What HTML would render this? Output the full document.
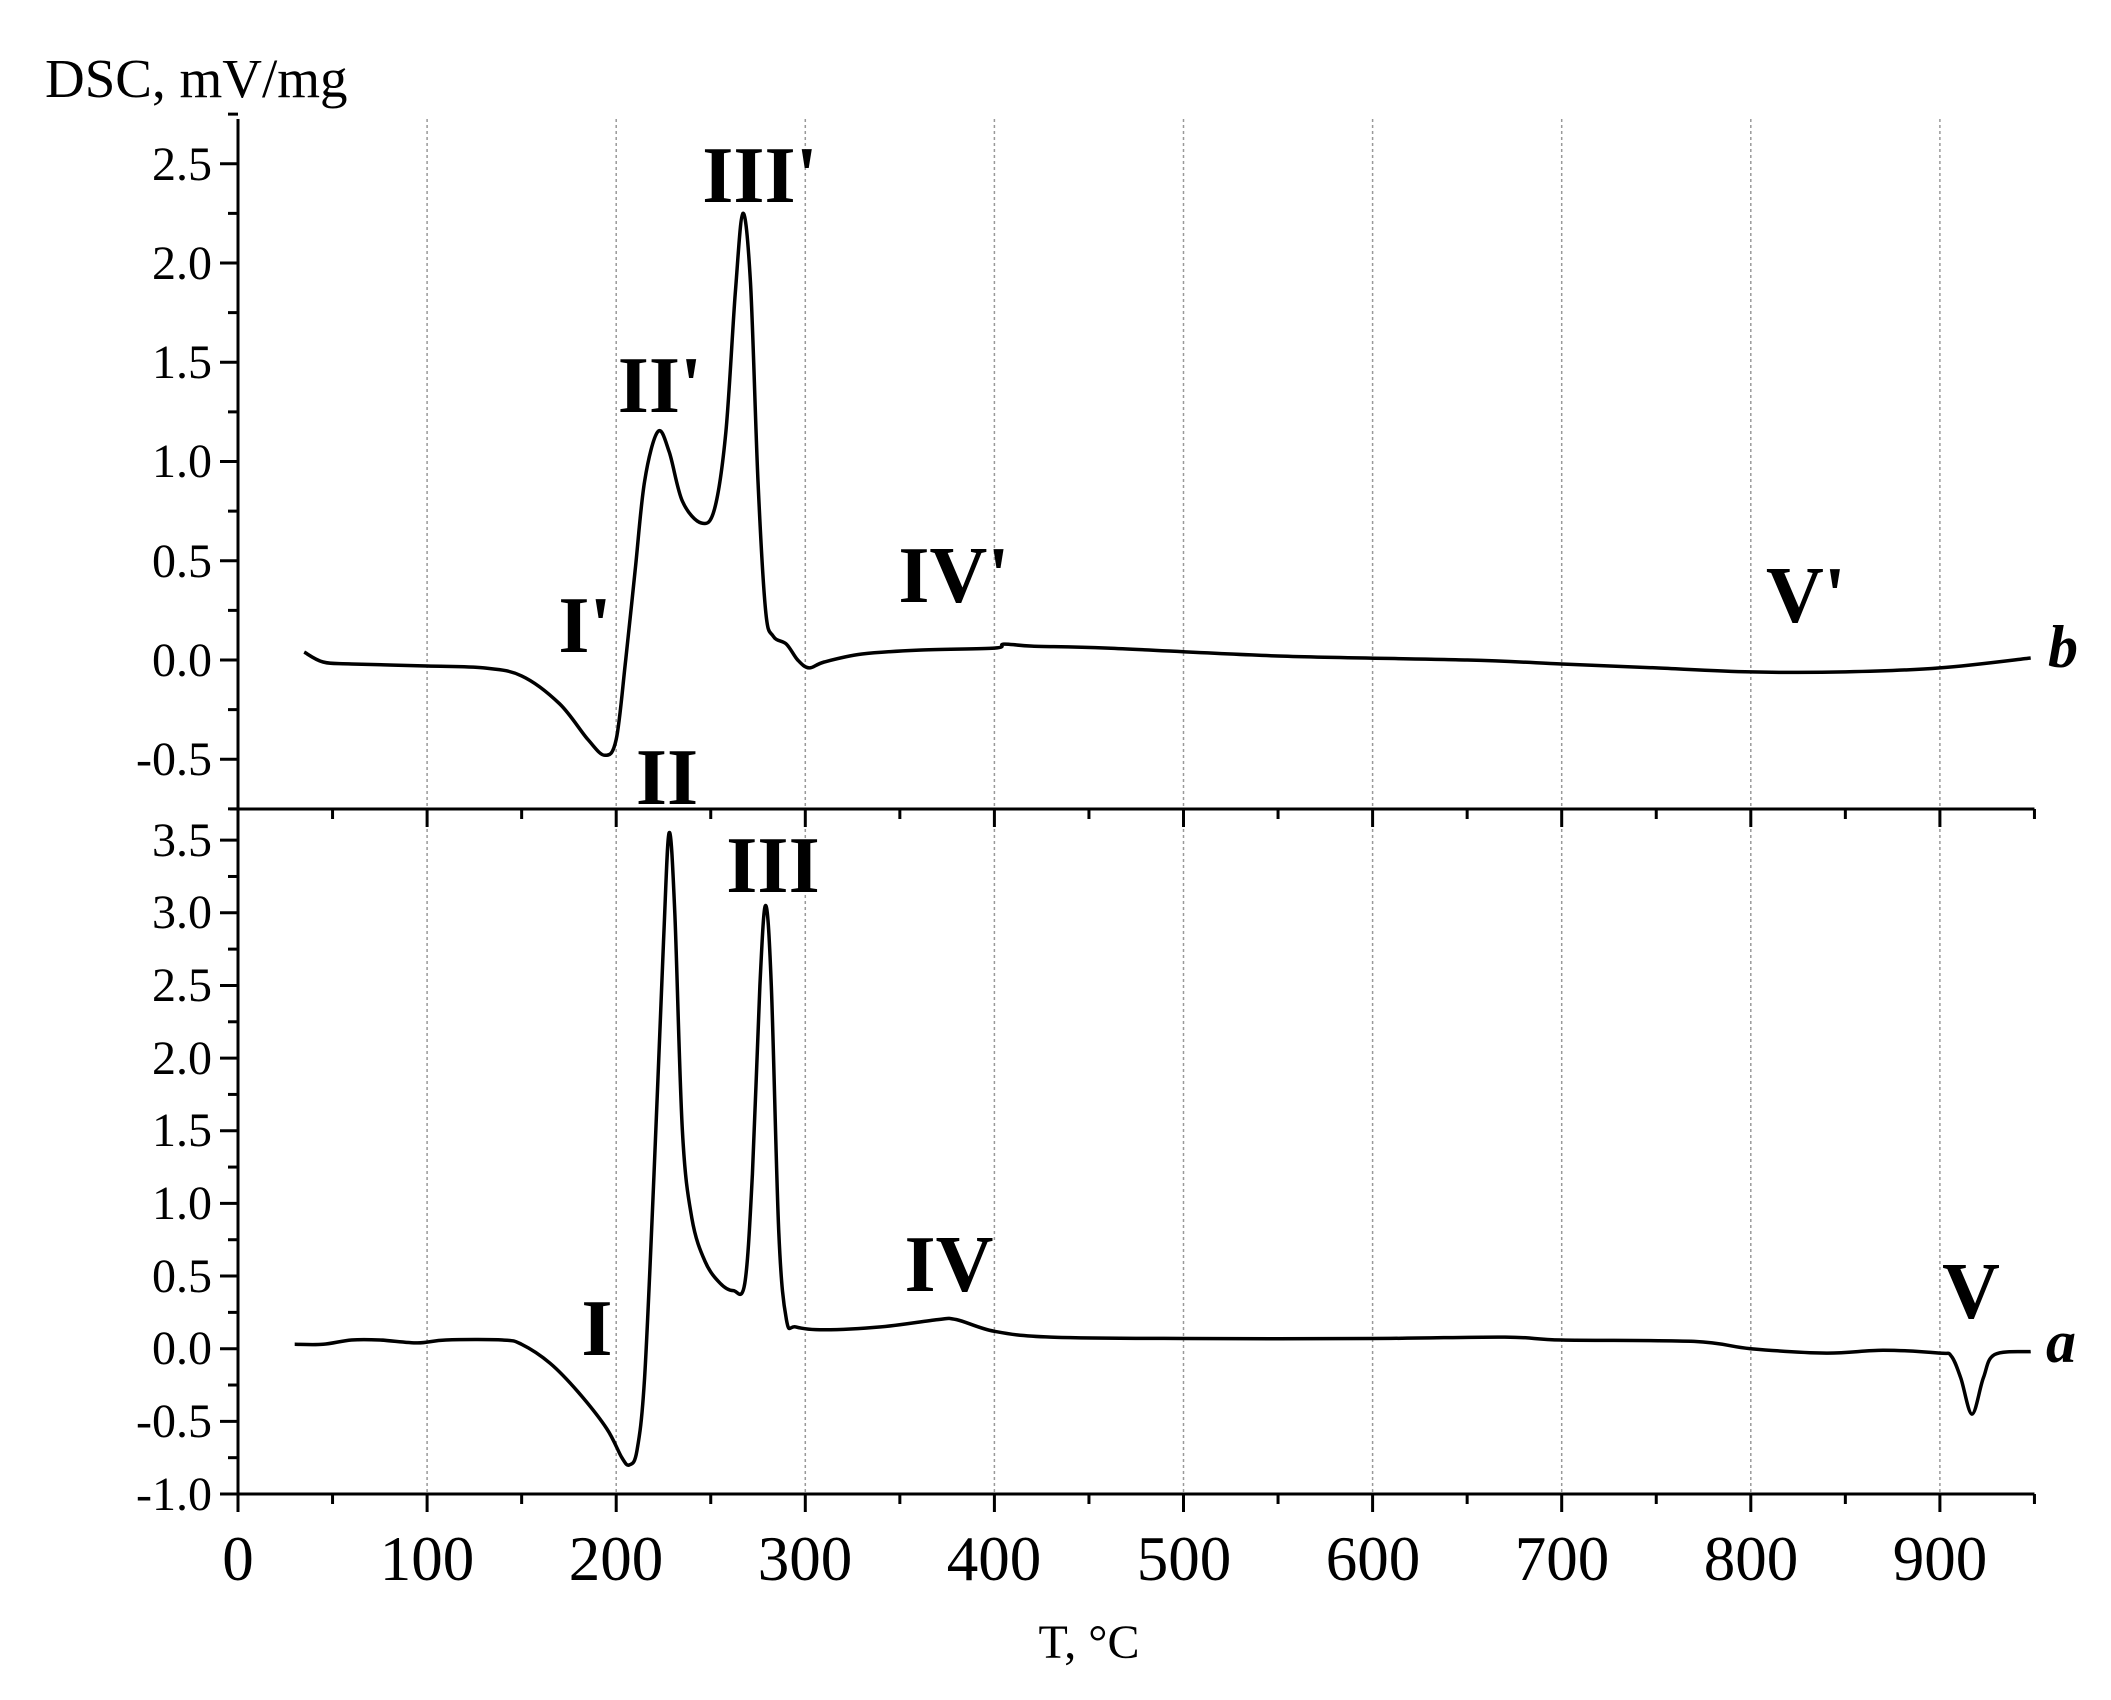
<!DOCTYPE html>
<html><head><meta charset="utf-8"><style>
html,body{margin:0;padding:0;background:#fff;}
svg{display:block;}
text{font-family:"Liberation Serif",serif;fill:#000;}
.yl{font-size:48px;text-anchor:end;}
.xl{font-size:63px;text-anchor:middle;}
.lb{font-size:80px;font-weight:bold;text-anchor:middle;}
</style></head><body>
<svg id="s" width="2111" height="1700" viewBox="0 0 2111 1700" xmlns="http://www.w3.org/2000/svg">
<g id="grid" stroke="#999" stroke-width="1.5" stroke-dasharray="3,3"></g>
<g id="axes" stroke="#000" stroke-width="3" fill="none"></g>
<path id="pb" fill="none" stroke="#000" stroke-width="3.5"/>
<path id="pa" fill="none" stroke="#000" stroke-width="3.5"/>
<text x="45" y="97" style="font-size:55px">DSC, mV/mg</text>
<text class="yl" x="212" y="180">2.5</text>
<text class="yl" x="212" y="279">2.0</text>
<text class="yl" x="212" y="378">1.5</text>
<text class="yl" x="212" y="477">1.0</text>
<text class="yl" x="212" y="577">0.5</text>
<text class="yl" x="212" y="676">0.0</text>
<text class="yl" x="212" y="775">-0.5</text>
<text class="yl" x="212" y="856">3.5</text>
<text class="yl" x="212" y="928">3.0</text>
<text class="yl" x="212" y="1001">2.5</text>
<text class="yl" x="212" y="1074">2.0</text>
<text class="yl" x="212" y="1146">1.5</text>
<text class="yl" x="212" y="1219">1.0</text>
<text class="yl" x="212" y="1292">0.5</text>
<text class="yl" x="212" y="1364">0.0</text>
<text class="yl" x="212" y="1437">-0.5</text>
<text class="yl" x="212" y="1510">-1.0</text>
<text class="xl" x="238" y="1580">0</text>
<text class="xl" x="427" y="1580">100</text>
<text class="xl" x="616" y="1580">200</text>
<text class="xl" x="805" y="1580">300</text>
<text class="xl" x="994" y="1580">400</text>
<text class="xl" x="1184" y="1580">500</text>
<text class="xl" x="1373" y="1580">600</text>
<text class="xl" x="1562" y="1580">700</text>
<text class="xl" x="1751" y="1580">800</text>
<text class="xl" x="1940" y="1580">900</text>
<text x="1089" y="1658" style="font-size:48px;text-anchor:middle">T, °C</text>
<text class="lb" x="585" y="652">I'</text>
<text class="lb" x="660" y="412">II'</text>
<text class="lb" x="760" y="202">III'</text>
<text class="lb" x="954" y="602">IV'</text>
<text class="lb" x="1806" y="622">V'</text>
<text x="2063" y="667" style="font-size:60px;font-weight:bold;font-style:italic;text-anchor:middle">b</text>
<text class="lb" x="667" y="804">II</text>
<text class="lb" x="773" y="892">III</text>
<text class="lb" x="597" y="1355">I</text>
<text class="lb" x="949" y="1291">IV</text>
<text class="lb" x="1971" y="1318">V</text>
<text x="2061" y="1362" style="font-size:60px;font-weight:bold;font-style:italic;text-anchor:middle">a</text>
</svg>
<script>
var X0=238,KX=1.891;
function X(t){return X0+KX*t;}
function YB(v){return 660-198.5*v;}
function YA(v){return 1494-145.3*(v+1);}
var ns="http://www.w3.org/2000/svg";
function el(p,tag,a){var e=document.createElementNS(ns,tag);for(var k in a)e.setAttribute(k,a[k]);p.appendChild(e);}
var g=document.getElementById('grid'),ax=document.getElementById('axes');
for(var t=100;t<=900;t+=100){el(g,'line',{x1:X(t),x2:X(t),y1:119,y2:807});el(g,'line',{x1:X(t),x2:X(t),y1:811,y2:1492});}
var L=X0,R=X(950);
el(ax,'line',{x1:L,y1:119,x2:L,y2:1494});
el(ax,'line',{x1:L-8,y1:809,x2:R,y2:809});
el(ax,'line',{x1:L-8,y1:1494,x2:R,y2:1494});
for(var v=-0.75;v<=2.76;v+=0.25){var y=YB(v);var maj=Math.abs(v*2-Math.round(v*2))<1e-6;el(ax,'line',{x1:L-(maj?18:10),x2:L,y1:y,y2:y});}
for(var v=-1;v<=3.71;v+=0.25){var y=YA(v);var maj=Math.abs(v*2-Math.round(v*2))<1e-6;el(ax,'line',{x1:L-(maj?18:10),x2:L,y1:y,y2:y});}
for(var t=0;t<=950;t+=50){var maj=t%100==0;el(ax,'line',{x1:X(t),x2:X(t),y1:809,y2:809+(maj?18:10)});el(ax,'line',{x1:X(t),x2:X(t),y1:1494,y2:1494+(maj?18:10)});}
function path(pts,fy){var P=pts.map(function(p){return [X(p[0]),fy(p[1])];});
var d="M"+P[0][0].toFixed(1)+","+P[0][1].toFixed(1);
for(var i=0;i<P.length-1;i++){var p0=P[Math.max(i-1,0)],p1=P[i],p2=P[i+1],p3=P[Math.min(i+2,P.length-1)];
var c1=[p1[0]+(p2[0]-p0[0])/6,p1[1]+(p2[1]-p0[1])/6],c2=[p2[0]-(p3[0]-p1[0])/6,p2[1]-(p3[1]-p1[1])/6];
d+="C"+c1[0].toFixed(1)+","+c1[1].toFixed(1)+" "+c2[0].toFixed(1)+","+c2[1].toFixed(1)+" "+p2[0].toFixed(1)+","+p2[1].toFixed(1);}
return d;}
var b=[[35,0.04],[45,-0.01],[60,-0.02],[100,-0.03],[130,-0.04],[150,-0.08],[170,-0.22],[185,-0.4],[194,-0.48],[200,-0.4],[205,0],[210,0.45],[215,0.9],[222,1.15],[228,1.05],[235,0.8],[245,0.69],[252,0.76],[258,1.15],[263,1.85],[267,2.25],[271,1.9],[275,0.9],[279,0.25],[283,0.12],[290,0.08],[296,0.0],[302,-0.04],[310,-0.01],[330,0.03],[360,0.05],[400,0.06],[405,0.08],[420,0.07],[460,0.06],[550,0.02],[650,0.0],[700,-0.02],[750,-0.04],[800,-0.06],[850,-0.06],[900,-0.04],[948,0.01]];
var a=[[30,0.03],[45,0.03],[60,0.06],[75,0.06],[95,0.04],[110,0.06],[140,0.06],[150,0.03],[165,-0.1],[180,-0.3],[195,-0.55],[203,-0.75],[207,-0.8],[211,-0.7],[215,-0.2],[220,1.2],[225,2.8],[228,3.55],[231,3.0],[235,1.5],[240,0.9],[247,0.6],[255,0.45],[262,0.4],[268,0.45],[272,1.2],[276,2.5],[279,3.05],[282,2.5],[286,0.8],[290,0.2],[295,0.15],[310,0.13],[340,0.15],[370,0.2],[380,0.2],[400,0.12],[430,0.08],[500,0.07],[600,0.07],[670,0.08],[700,0.06],[770,0.05],[800,0.0],[840,-0.03],[870,-0.01],[900,-0.03],[906,-0.05],[911,-0.2],[917,-0.45],[923,-0.2],[929,-0.04],[948,-0.02]];
document.getElementById('pb').setAttribute('d',path(b,YB));
document.getElementById('pa').setAttribute('d',path(a,YA));
</script>
</body></html>
